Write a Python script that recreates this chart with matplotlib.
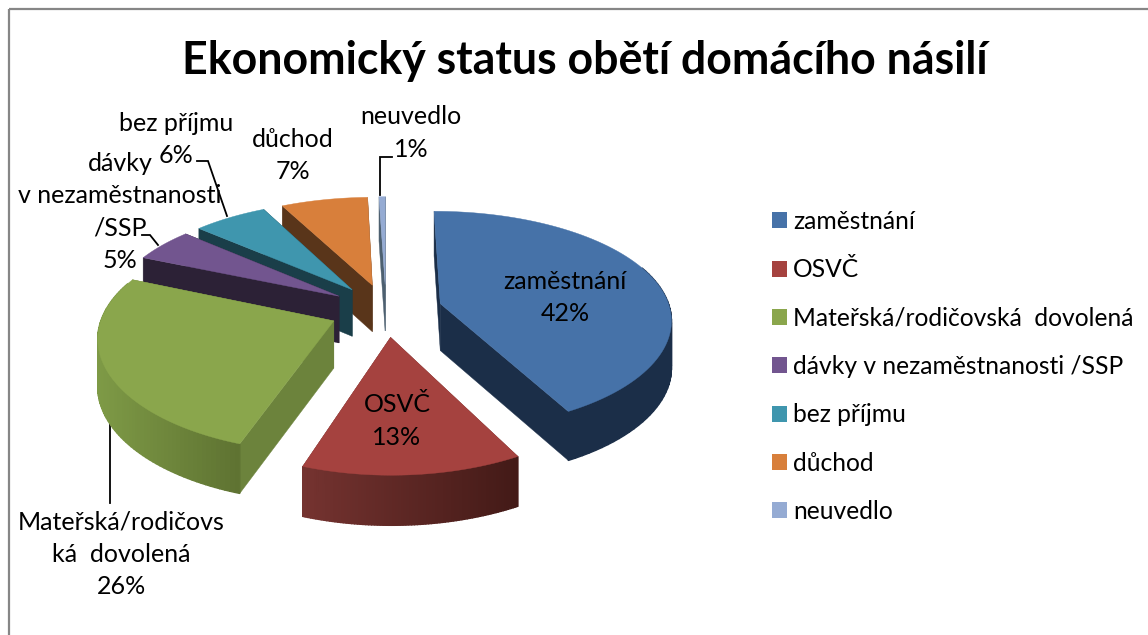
import numpy as np
import matplotlib
matplotlib.use("Agg")
import matplotlib.pyplot as plt
from matplotlib.patches import Patch, Polygon, Rectangle
from matplotlib.colors import to_rgb

plt.rcParams['font.family'] = ['Lato', 'DejaVu Sans']

# ---- data ----
categories = ["zaměstnání", "OSVČ", "Mateřská/rodičovská  dovolená",
              "dávky v nezaměstnanosti /SSP", "bez příjmu", "důchod", "neuvedlo"]
values = [42, 13, 26, 5, 6, 7, 0.5]
percent_labels = ["42%", "13%", "26%", "5%", "6%", "7%", "1%"]
title = "Ekonomický status obětí domácího násilí"
top_colors = ["#4672A8", "#A5423F", "#8AA64C", "#72558F", "#3F96AE", "#D87F3B", "#95ABD3"]
face_colors = ["#1B2E48", "#6E302D", "#6C833C", "#2C2136", "#1A3E49", "#59351A", "#4D6070"]
wall_left = ["#1B2E48", "#753330", "#7E9A46", "#2C2136", "#1A3E49", "#59351A", "#4D6070"]
wall_right = ["#1B2E48", "#431A17", "#5F7332", "#2C2136", "#1A3E49", "#59351A", "#4D6070"]

fig = plt.figure(figsize=(11.48, 6.35), dpi=100)
ax = fig.add_axes([0, 0, 1, 1])
ax.set_xlim(0, 1148)
ax.set_ylim(635, 0)
ax.axis("off")

ax.add_patch(Rectangle((9, 9), 1300, 700, fill=False, ec="#868686", lw=1.6))

# ---- projection of the exploded pie ----
X0, Y0 = 386, 310
SX, TY = 230, 108
PX, PY = 0.13, 0.15
EXPLODE = 0.245
DEPTH, DQ = 47, 0.05


def project(X, Y, z=0.0):
    X, Y = np.asarray(X, float), np.asarray(Y, float)
    px = X0 + SX * X / (1 + PX * Y)
    py = Y0 - TY * Y / (1 + PY * Y) + z * DEPTH / (1 + DQ * Y)
    return np.column_stack([px, py])


fractions = np.array(values, float) / sum(values)
edges = np.concatenate([[0], np.cumsum(fractions)]) * 2 * np.pi


def slice_shapes(i):
    a0, a1 = edges[i], edges[i + 1]
    mid = (a0 + a1) / 2
    cx, cy = EXPLODE * np.sin(mid), EXPLODE * np.cos(mid)
    th = np.linspace(a0, a1, 80)
    rimx, rimy = cx + np.sin(th), cy + np.cos(th)
    return cx, cy, th, rimx, rimy


def draw_slice(i, z):
    cx, cy, th, rimx, rimy = slice_shapes(i)
    kw = dict(zorder=z, lw=0.3)
    # radial faces
    for k in (0, -1):
        xs = [cx, rimx[k], rimx[k], cx]
        ys = [cy, rimy[k], rimy[k], cy]
        pts = np.vstack([project(xs[:2], ys[:2], 0), project(xs[2:], ys[2:], 1)])
        ax.add_patch(Polygon(pts, fc=face_colors[i], ec=face_colors[i], **kw))
    # outer wall, shaded by angle
    L, R = np.array(to_rgb(wall_left[i])), np.array(to_rgb(wall_right[i]))
    rim_px = project(rimx, rimy)[:, 0]
    for j in range(len(th) - 1):
        if np.cos(th[j]) > 0.35 and np.cos(th[j + 1]) > 0.35:
            continue
        px = project(rimx[j:j + 2], rimy[j:j + 2], 0)
        pb = project(rimx[j:j + 2], rimy[j:j + 2], 1)
        f = (px[0, 0] - rim_px.min()) / (np.ptp(rim_px) + 1e-9)
        col = L + (R - L) * np.clip(f, 0, 1)
        ax.add_patch(Polygon(np.vstack([px, pb[::-1]]), fc=col, ec=col,
                             zorder=z, lw=1.0))
    # top face
    top = project(np.r_[cx, rimx], np.r_[cy, rimy], 0)
    ax.add_patch(Polygon(top, fc=top_colors[i], ec=top_colors[i], zorder=z + 0.5, lw=0.3))


for z, i in enumerate([6, 5, 4, 3, 2, 0, 1]):
    draw_slice(i, 2 + z)

# ---- leader lines ----
LEADER = dict(color="black", lw=1.3, zorder=1.5, solid_joinstyle="miter")
ax.plot([380, 380, 392], [195, 157, 157], **LEADER)
ax.plot([197, 208, 227], [161, 161, 216], **LEADER)
ax.plot([142, 150, 158], [235, 235, 245], **LEADER)
ax.plot([110, 110], [421, 503], **LEADER)

# ---- data labels ----
FS = 18
wrapped = [["zaměstnání"], ["OSVČ"], ["Mateřská/rodičovs", "ká  dovolená"],
           ["dávky", "v nezaměstnanosti", "/SSP"], ["bez příjmu"], ["důchod"], ["neuvedlo"]]
anchors = [(565, 289, 32), (397, 412, 33), (121, 529, 32.5), (120, 171, 32.3),
           (176, 131, 32), (293, 147, 32), (411, 124, 33)]
for lab, p, (x, y, step) in zip(wrapped, percent_labels, anchors):
    for n, line in enumerate(lab + [p]):
        ax.text(x, y + n * step, line, ha="center", va="baseline", fontsize=FS,
                color="black", zorder=20)

# ---- title ----
ax.text(585, 61, title, ha="center", va="center", fontsize=32.1, fontweight="bold", color="black")

# ---- legend ----
handles = [Patch(fc=c, ec="none") for c in top_colors]
ax.legend(handles, categories, loc="upper left", bbox_to_anchor=(772, 210),
          bbox_transform=ax.transData, frameon=False, fontsize=17.7,
          borderpad=0, borderaxespad=0, handlelength=0.61, handleheight=0.61,
          handletextpad=0.24, labelspacing=1.03, labelcolor="black")

fig.savefig("out.png", dpi=100)
